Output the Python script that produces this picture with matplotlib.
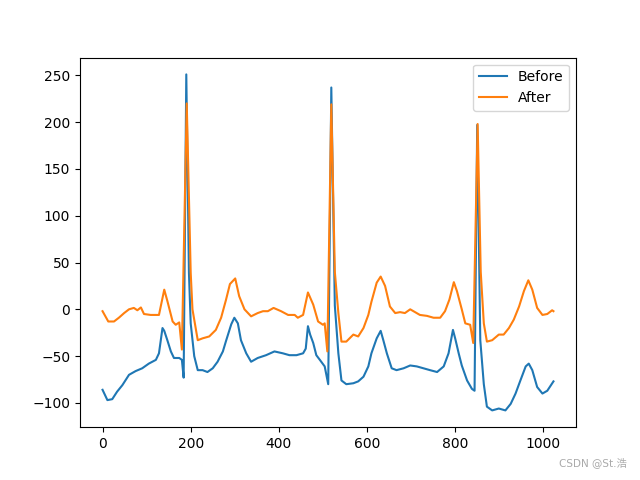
import matplotlib.pyplot as plt

# points (sample index, amplitude)
before_x = [0, 11, 22, 33, 45, 60, 75, 90, 105, 121, 128, 136, 140, 147, 155, 162,
            174, 180, 184, 190, 196, 200, 208, 216, 227, 238, 250, 261, 273, 280,
            292, 299, 307, 314, 326, 337, 352, 371, 390, 409, 424, 440, 455, 461,
            466, 471, 478, 485, 493, 504, 512, 519, 527, 535, 542, 553, 569, 580,
            592, 603, 610, 622, 631, 637, 645, 656, 667, 683, 698, 713, 728, 743,
            759, 774, 785, 795, 800, 808, 815, 827, 838, 844, 850, 857, 865, 872,
            884, 899, 914, 926, 937, 948, 960, 967, 975, 986, 998, 1009, 1023]
before_y = [-86, -97, -96, -88, -81, -70, -66, -63, -58, -54, -47, -20, -23, -33, -45, -52,
            -52, -54, -73, 251, 39, -15, -50, -65, -65, -67, -63, -56, -45, -34,
            -16, -9, -15, -33, -47, -56, -52, -49, -45, -47, -49, -49, -47, -42,
            -18, -27, -36, -49, -54, -61, -80, 237, 4, -47, -76, -80, -79, -77,
            -72, -61, -47, -31, -23, -33, -47, -63, -65, -63, -60, -61, -63, -65,
            -67, -61, -47, -22, -31, -47, -60, -76, -85, -87, 197, -33, -80, -104,
            -108, -106, -108, -101, -90, -76, -61, -58, -65, -83, -90, -87, -77]

after_x = [0, 13, 26, 37, 49, 60, 71, 79, 87, 94, 109, 128, 140, 147, 159, 166,
           174, 180, 191, 200, 204, 216, 227, 242, 257, 269, 280, 289, 301, 310,
           322, 337, 352, 364, 375, 388, 405, 421, 436, 443, 455, 466, 478, 489,
           500, 504, 510, 519, 527, 535, 542, 553, 569, 580, 592, 603, 610, 622,
           631, 641, 652, 664, 675, 686, 698, 709, 720, 736, 751, 766, 777, 787,
           797, 804, 815, 823, 834, 841, 851, 858, 865, 872, 884, 899, 910, 922,
           933, 945, 956, 966, 975, 986, 998, 1009, 1020, 1023]
after_y = [-2, -13, -13, -9, -4, 0, 1.5, -1, 2, -5, -6, -6, 21, 9, -13, -16.5,
           -14, -43, 220, 39, 0, -33, -31, -29, -22, -9, 10, 27, 33, 14,
           0, -7.5, -4, -2, -2, 1.5, -2, -6, -6, -9, -6, 18, 5, -13,
           -16.5, -15, -45, 219, 40, -4, -34.5, -34.5, -27, -29, -20, -6, 8, 28.5,
           35, 25, 3, -4, -3, -4, 0, -3, -6, -7, -9, -9, -2, 10.5,
           29, 19.5, 0, -15, -16.5, -36, 198, 40, -15, -34.5, -33, -27, -27, -20,
           -11, 3, 19.5, 31, 21, 1.5, -6, -5, -1, -2]

plt.figure(figsize=(6.4, 4.8), dpi=100)
plt.plot(before_x, before_y, label='Before')
plt.plot(after_x, after_y, label='After')
plt.legend(loc='upper right')
plt.figtext(0.98, 0.025, 'CSDN @St.浩', ha='right', va='bottom', fontsize=7.5,
            color='#aaaaaa', family=['DejaVu Sans', 'Noto Sans CJK SC'])
plt.savefig('out.png')
